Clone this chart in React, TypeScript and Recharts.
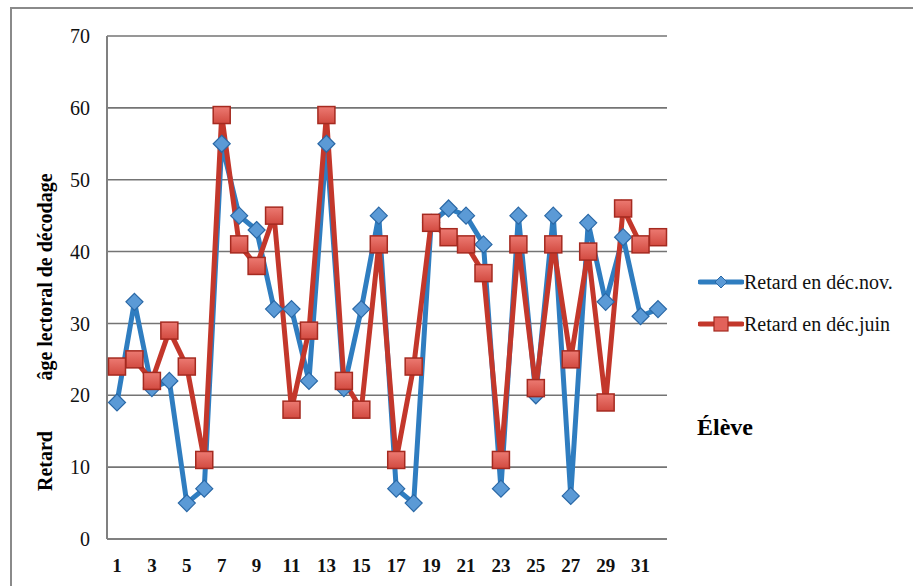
import React from "react";
import { LineChart, Line, XAxis, YAxis, CartesianGrid } from "recharts";

const eleves = ["1","2","3","4","5","6","7","8","9","10","11","12","13","14","15","16","17","18","19","20","21","22","23","24","25","26","27","28","29","30","31","32"];
const retardNov = [19,33,21,22,5,7,55,45,43,32,32,22,55,21,32,45,7,5,44,46,45,41,7,45,20,45,6,44,33,42,31,32];
const retardJuin = [24,25,22,29,24,11,59,41,38,45,18,29,59,22,18,41,11,24,44,42,41,37,11,41,21,41,25,40,19,46,41,42];
const yTicks = [0,10,20,30,40,50,60,70];
const seriesNames = ["Retard en déc.nov.", "Retard en déc.juin"];

const data = eleves.map((e, i) => ({ eleve: e, nov: retardNov[i], juin: retardJuin[i] }));

const BLUE = "#2f7dc0";
const BLUE_FILL = "#5b9ad6";
const BLUE_EDGE = "#2a68a6";
const RED = "#c3372b";
const RED_FILL = "#e2625a";
const RED_EDGE = "#a52a20";
const SERIF = "'Liberation Serif', 'DejaVu Serif', serif";

const Diamond = (props: any) => {
  const { cx, cy, index } = props;
  if (cx == null || cy == null) return <g key={"d" + index} />;
  const r = 8.5;
  return (
    <polygon
      key={"d" + index}
      points={`${cx},${cy - r} ${cx + r},${cy} ${cx},${cy + r} ${cx - r},${cy}`}
      fill={BLUE_FILL}
      stroke={BLUE_EDGE}
      strokeWidth={1.2}
    />
  );
};

const Square = (props: any) => {
  const { cx, cy, index } = props;
  if (cx == null || cy == null) return <g key={"s" + index} />;
  const h = 8.5;
  return (
    <rect
      key={"s" + index}
      x={cx - h}
      y={cy - h}
      width={2 * h}
      height={2 * h}
      fill="url(#sqGrad)"
      stroke={RED_EDGE}
      strokeWidth={1.5}
    />
  );
};

const LegendBox = () => (
  <div style={{ position: "absolute", left: 698, top: 261, fontFamily: SERIF, fontSize: 20, color: "#111" }}>
    {[0, 1].map((i) => (
      <div key={i} style={{ display: "flex", alignItems: "center", height: 42 }}>
        <svg width={46} height={20}>
          <line x1={2} y1={10} x2={44} y2={10} stroke={i === 0 ? BLUE : RED} strokeWidth={5} strokeLinecap="round" />
          {i === 0 ? (
            <polygon points="23,4 29,10 23,16 17,10" fill={BLUE_FILL} stroke={BLUE_EDGE} strokeWidth={1} />
          ) : (
            <rect x={16} y={3} width={14} height={14} fill={RED_FILL} stroke={RED_EDGE} strokeWidth={1.2} />
          )}
        </svg>
        <span>{seriesNames[i]}</span>
      </div>
    ))}
  </div>
);

const YTitle = () => (
  <g>
    <text
      transform="translate(52,461) rotate(-90)"
      textAnchor="middle"
      fontFamily={SERIF}
      fontWeight="bold"
      fontSize={20}
      fill="#000"
    >
      Retard
    </text>
    <text
      transform="translate(52,277) rotate(-90)"
      textAnchor="middle"
      fontFamily={SERIF}
      fontWeight="bold"
      fontSize={20}
      fill="#000"
    >
      âge lectoral de décodage
    </text>
  </g>
);

const XTitle = () => (
  <text x={697} y={435} fontFamily={SERIF} fontWeight="bold" fontSize={24} fill="#000">
    Élève
  </text>
);

export default function App() {
  return (
    <div style={{ position: "absolute", left: 0, top: 0, width: 913, height: 586, overflow: "hidden", background: "#fff" }}>
      <div
        style={{
          position: "absolute",
          left: 10,
          top: 7,
          width: 940,
          height: 640,
          border: "2px solid #8a8a8a",
          boxSizing: "border-box",
        }}
      />
      <div style={{ position: "absolute", left: 0, top: 0 }}>
        <LineChart width={913} height={586} data={data} margin={{ top: 36, right: 246, bottom: 0, left: 0 }}>
          <defs>
            <linearGradient id="sqGrad" x1="0" y1="0" x2="0" y2="1">
              <stop offset="0%" stopColor="#ec7a72" />
              <stop offset="100%" stopColor="#d24a40" />
            </linearGradient>
          </defs>
          <CartesianGrid vertical={false} stroke="#747474" strokeWidth={1.6} />
          <XAxis
            dataKey="eleve"
            interval={1}
            padding={{ left: 10, right: 9 }}
            height={47}
            tickLine={false}
            tickSize={8}
            tickMargin={12}
            axisLine={{ stroke: "#808080", strokeWidth: 2 }}
            tick={{ fontFamily: SERIF, fontSize: 19, fill: "#111", fontWeight: "bold" }}
            label={{ content: () => <XTitle /> }}
          />
          <YAxis
            domain={[0, 70]}
            ticks={yTicks}
            width={107}
            tickLine={false}
            tickSize={8}
            tickMargin={9}
            axisLine={{ stroke: "#808080", strokeWidth: 2 }}
            tick={{ fontFamily: SERIF, fontSize: 20, fill: "#111" }}
            label={{ content: () => <YTitle /> }}
          />
          <Line
            type="linear"
            dataKey="nov"
            name={seriesNames[0]}
            stroke={BLUE}
            strokeWidth={5}
            dot={Diamond}
            activeDot={false}
            isAnimationActive={false}
          />
          <Line
            type="linear"
            dataKey="juin"
            name={seriesNames[1]}
            stroke={RED}
            strokeWidth={5}
            dot={Square}
            activeDot={false}
            isAnimationActive={false}
          />
        </LineChart>
      </div>
      <LegendBox />
    </div>
  );
}
